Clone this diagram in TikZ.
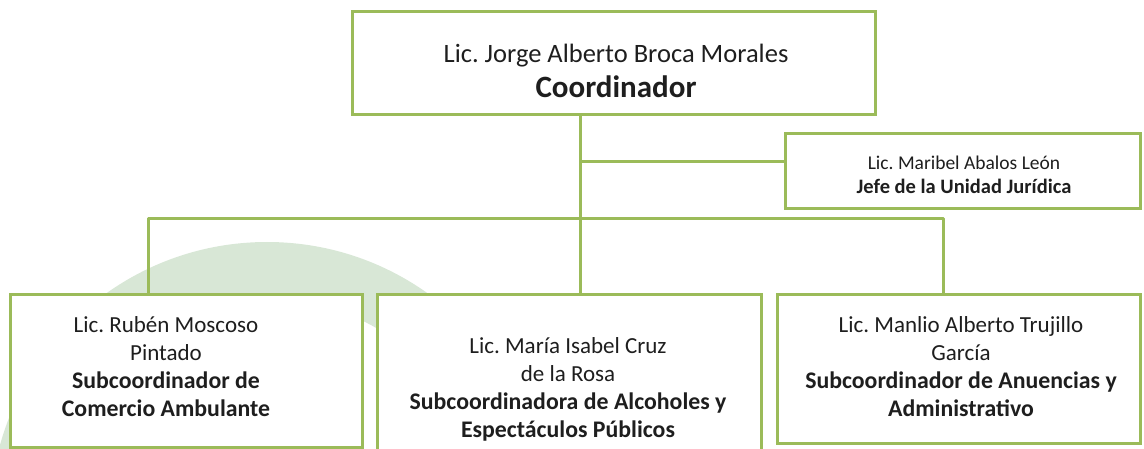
\documentclass[tikz,border=0pt]{standalone}
\usepackage{fontspec}
\setmainfont{Carlito}
\definecolor{lineg}{HTML}{9BBB59}
\definecolor{ringg}{HTML}{D8E7D6}
\definecolor{txt}{HTML}{1E1E1E}
\newcommand{\bsub}[1]{\textbf{\fontsize{23.8}{28}\selectfont #1}}
\begin{document}
\frenchspacing
\begin{tikzpicture}[x=1pt,y=-1pt,
  box/.style={draw=lineg,line width=3pt,fill=white,rectangle,inner sep=0pt},
  conn/.style={draw=lineg,line width=3pt},
  lbl/.style={text=txt,align=center,inner sep=0pt,anchor=center},
  big/.style={lbl,font=\fontsize{26.5}{35}\selectfont},
  mid/.style={lbl,font=\fontsize{23}{28}\selectfont},
  small/.style={lbl,font=\fontsize{19.5}{24}\selectfont}]
\useasboundingbox (0,0) rectangle (1144,449);
% background ring
\fill[ringg,even odd rule] (267,519) circle (277) (267,519) circle (220);
% boxes
\node[box,minimum width=523pt,minimum height=103pt] (top) at (613.5,63.5) {};
\node[box,minimum width=355pt,minimum height=75pt] (legal) at (963,171.5) {};
\node[box,minimum width=352pt,minimum height=152pt] (b1) at (186,371) {};
\node[box,minimum width=384pt,minimum height=162pt] (b2) at (569,376) {};
\node[box,minimum width=363pt,minimum height=148pt] (b3) at (958.5,369) {};
% junctions
\coordinate (j1) at (580,162);
\coordinate (j2) at (580,219);
\coordinate (jl) at (148,219);
\coordinate (jr) at (943,219);
\draw[conn] (top.south -| j1) -- (j2) -- (b2.north -| j2);
\draw[conn] (j1) -- (j1 -| legal.west);
\draw[conn,line join=round] (b1.north -| jl) -- (jl) -- (jr) -- (b3.north -| jr);
% texts
\node[big] (t0) at (616,70.5) {Lic. Jorge Alberto Broca Morales\\\textbf{\fontsize{31}{35}\selectfont Coordinador}};
\node[small] (t1) at (964,174.5) {Lic. Maribel Abalos León\\\textbf{\fontsize{20.5}{24}\selectfont Jefe de la Unidad Jurídica}};
\node[mid] (t2) at (166,367) {Lic. Rubén Moscoso\\Pintado\\\bsub{Subcoordinador de}\\\bsub{Comercio Ambulante}};
\node[mid] (t3) at (568,389) {Lic. María Isabel Cruz\\de la Rosa\\\bsub{Subcoordinadora de Alcoholes y}\\\bsub{Espectáculos Públicos}};
\node[mid] (t4) at (961,367) {Lic. Manlio Alberto Trujillo\\García\\\bsub{Subcoordinador de Anuencias y}\\\bsub{Administrativo}};
\end{tikzpicture}
\end{document}
